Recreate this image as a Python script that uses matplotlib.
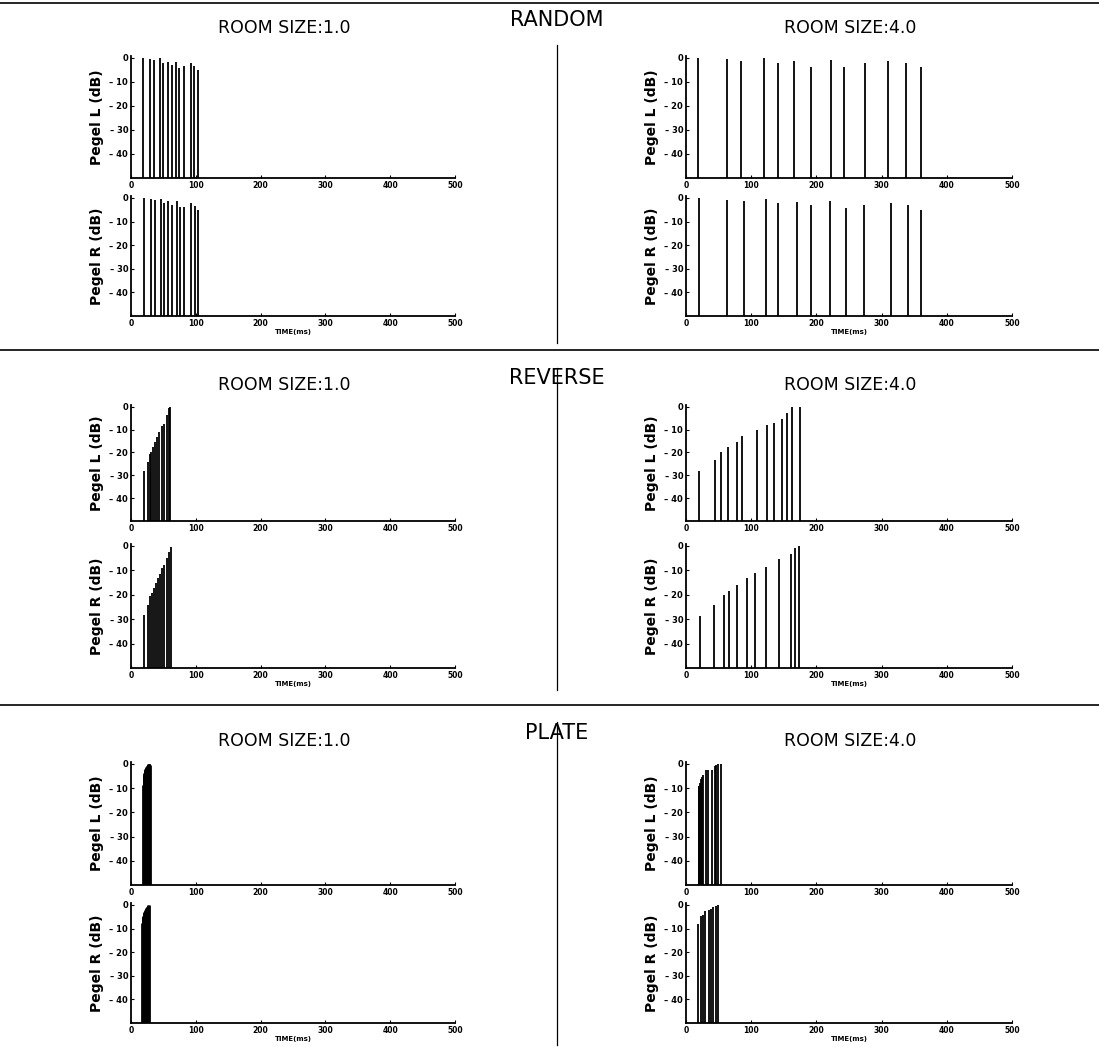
import matplotlib
matplotlib.use('Agg')
import matplotlib.pyplot as plt
from matplotlib.lines import Line2D

# impulse times (ms) and levels (dB)
random1_L_t = [19, 30, 35.5, 44.8, 49.9, 56.6, 62.7, 68.9, 74.5, 82.3, 92.6, 97.8, 104]
random1_L_db = [0, -0.3, -1, 0, -2, -1.7, -3, -1.5, -4.3, -3.3, -2, -3.3, -5]
random1_R_t = [20.6, 30.9, 37, 46, 50.9, 57.6, 62.7, 70.5, 75.6, 82.3, 92.6, 98.8, 104]
random1_R_db = [0, -0.4, -1, -0.4, -2.3, -1.4, -3, -1.4, -4, -3.8, -2.3, -3.4, -5.2]
random4_L_t = [19, 63.6, 84, 120, 140.5, 166, 192, 223, 242, 274, 310, 338, 360]
random4_L_db = [0, -0.4, -1.1, 0, -2, -1.4, -3.9, -0.7, -3.6, -2.3, -1.4, -2.2, -3.9]
random4_R_t = [20, 62.6, 89, 122.6, 140.5, 171, 191, 221.5, 245.6, 272.8, 313.8, 340.5, 360]
random4_R_db = [0, -0.7, -1.4, -0.4, -2.2, -1.8, -2.8, -1.4, -4.3, -3.2, -2.2, -3.2, -5.2]

reverse1_L_t = [20, 26, 29, 31.6, 34, 37, 39.5, 43, 48.4, 51.6, 55, 58, 60]
reverse1_L_db = [-28.2, -24, -20.8, -19.9, -17.4, -15.3, -13.2, -11.1, -8.3, -7.6, -3.5, -0.4, 0]
reverse1_R_t = [20, 26.3, 30, 32.6, 35.3, 38.4, 41, 44.7, 48.4, 51.6, 55.3, 58, 61]
reverse1_R_db = [-28.4, -24, -20.7, -19.3, -17.3, -15.3, -13.2, -11.6, -9.2, -7.6, -5.1, -2.4, -0.4]
reverse4_L_t = [20, 44.5, 53, 64, 78, 86.4, 109, 124, 135, 148, 155, 163, 175]
reverse4_L_db = [-28, -23.4, -19.7, -17.7, -15.2, -12.8, -10.3, -8, -7, -5.2, -2.9, -0.1, 0]
reverse4_R_t = [21.5, 43, 58.8, 66.5, 77.7, 94, 106, 122.7, 143, 160.5, 167, 173]
reverse4_R_db = [-28.5, -24, -19.9, -18.5, -15.8, -13, -11, -8.5, -5.5, -3.4, -0.7, 0]

plate1_L_t = [19.0, 19.5, 20.0, 20.5, 21.0, 21.5, 22.0, 22.5, 23.0, 23.5, 24.0,
              24.5, 25.0, 25.5, 26.0, 26.5, 27.0, 27.5, 28.0, 28.5, 29.0]
plate1_L_db = [-8.5, -6.0, -4.5, -3.6, -3.0, -2.6, -2.2, -1.9, -1.6, -1.3, -1.1,
               -0.9, -0.7, -0.5, -0.4, -0.3, -0.2, -0.1, 0.0, 0.0, -0.3]
plate1_R_t = [17.5, 18.0, 18.5, 19.0, 19.5, 20.0, 20.5, 21.0, 21.5, 22.0, 22.5,
              23.0, 23.5, 24.0, 24.5, 25.0, 25.5, 26.0, 26.5, 27.0, 27.5]
plate1_R_db = [-7.5, -6.2, -5.2, -4.5, -4.0, -3.6, -3.2, -2.8, -2.5, -2.2, -1.9,
               -1.6, -1.4, -1.2, -1.0, -0.8, -0.6, -0.4, -0.3, -0.1, 0.0]
plate4_L_t = [19.4, 20.2, 21.0, 22.5, 25, 26.6, 30.7, 34.3, 39.4, 44.5, 46, 49.6, 53.2]
plate4_L_db = [-9.2, -9.0, -8.0, -6.4, -5.5, -4.7, -2.6, -2.4, -2.3, -1.0, -0.3, 0, 0]
plate4_R_t = [19, 23, 25.6, 29, 35.8, 38.4, 41, 46, 48.6]
plate4_R_db = [-8.2, -4.8, -4.1, -2.7, -2.0, -1.6, -1.0, -0.3, 0]

sections = ['RANDOM', 'REVERSE', 'PLATE']
room_sizes = ['ROOM SIZE:1.0', 'ROOM SIZE:4.0']
channels = ['Pegel L (dB)', 'Pegel R (dB)']
x_ticks = [0, 100, 200, 300, 400, 500]
y_ticks = [0, -10, -20, -30, -40]
y_ticklabels = ['0', '– 10', '– 20', '– 30', '– 40']

data = {
    (0, 0, 0): (random1_L_t, random1_L_db), (0, 0, 1): (random1_R_t, random1_R_db),
    (0, 1, 0): (random4_L_t, random4_L_db), (0, 1, 1): (random4_R_t, random4_R_db),
    (1, 0, 0): (reverse1_L_t, reverse1_L_db), (1, 0, 1): (reverse1_R_t, reverse1_R_db),
    (1, 1, 0): (reverse4_L_t, reverse4_L_db), (1, 1, 1): (reverse4_R_t, reverse4_R_db),
    (2, 0, 0): (plate1_L_t, plate1_L_db), (2, 0, 1): (plate1_R_t, plate1_R_db),
    (2, 1, 0): (plate4_L_t, plate4_L_db), (2, 1, 1): (plate4_R_t, plate4_R_db),
}

W, H = 1099, 1047
fig = plt.figure(figsize=(W / 100, H / 100), dpi=100)

col_x = [(131, 455), (686, 1012)]
room_cx = [284, 850]
# pixel rows (top, bottom) of the L and R axes for each section
rows = [[(56, 178), (196, 316)],
        [(405, 521), (544, 668)],
        [(762, 885), (903, 1023)]]
title_y = [20, 378, 733]
room_y = [28, 385, 741]
sep_y = [3, 350, 705]
vline = [(45, 343), (368, 690), (722, 1045)]


def fx(px):
    return px / W


def fy(py):
    return 1 - py / H


for s in range(3):
    fig.text(fx(557), fy(title_y[s]), sections[s], ha='center', va='center',
             fontsize=15, family='DejaVu Sans')
    for c in range(2):
        cx0, cx1 = col_x[c]
        fig.text(fx(room_cx[c]), fy(room_y[s]), room_sizes[c],
                 ha='center', va='center', fontsize=12.5, family='DejaVu Sans')
        for ch in range(2):
            top, bot = rows[s][ch]
            ax = fig.add_axes([fx(cx0), fy(bot), fx(cx1 - cx0), (bot - top) / H])
            t, db = data[(s, c, ch)]
            lw = 2.0 if (s == 2 and c == 0) else 1.3
            ax.vlines(t, -50, db, color='black', lw=lw)
            ax.set_xlim(0, 500)
            ax.set_ylim(-50, 0.8)
            for sp in ['top', 'right']:
                ax.spines[sp].set_visible(False)
            ax.spines['left'].set_linewidth(1.3)
            ax.spines['bottom'].set_linewidth(1.3)
            ax.set_xticks(x_ticks)
            ax.set_xticklabels([str(v) for v in x_ticks], fontsize=5.5, fontweight='bold')
            ax.set_yticks(y_ticks)
            ax.set_yticklabels(y_ticklabels, fontsize=6, fontweight='bold')
            ax.tick_params(axis='both', direction='in', length=2.5, width=0.8, pad=2)
            ax.set_ylabel(channels[ch], fontsize=10, fontweight='bold', labelpad=4)
            if ch == 1:
                ax.set_xlabel('TIME(ms)', fontsize=5, fontweight='bold', labelpad=1)

# separators
for y in sep_y:
    fig.add_artist(Line2D([0, 1], [fy(y), fy(y)], color='black', lw=1.2))
for y0, y1 in vline:
    fig.add_artist(Line2D([fx(557), fx(557)], [fy(y0), fy(y1)], color='black', lw=0.9))

fig.savefig('out.png', dpi=100)
